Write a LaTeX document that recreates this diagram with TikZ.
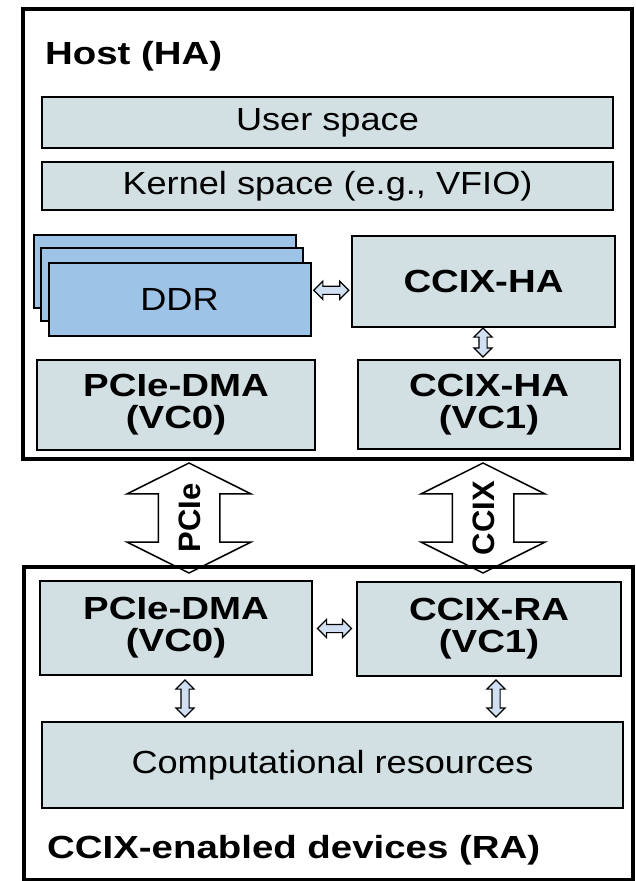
\documentclass[tikz,border=0pt]{standalone}
\usepackage{fontspec}
\setmainfont{Liberation Sans}[FakeStretch=1.13]
\newfontfamily\headfont{Liberation Sans}[FakeStretch=1.2]
\newfontfamily\linkfont{Liberation Sans}
\usetikzlibrary{shapes.arrows,positioning,calc}

\definecolor{boxfill}{RGB}{210,224,228}
\definecolor{ddrfill}{RGB}{157,195,230}
\definecolor{arrowfill}{RGB}{208,224,242}

\tikzset{
  outerbox/.style={draw, line width=4pt, inner sep=0pt},
  block/.style={draw, line width=2pt, fill=boxfill, inner sep=0pt, align=center,
    font=\fontsize{32}{35}\selectfont},
  boldblock/.style={block, font=\headfont\bfseries\fontsize{32}{32}\selectfont},
  ddrbox/.style={block, fill=ddrfill, minimum width=262pt, minimum height=73pt},
  title/.style={anchor=base west, inner sep=0pt,
    font=\headfont\bfseries\fontsize{32}{32}\selectfont},
  bigarrow/.style={shape=double arrow, draw, line width=1.5pt, fill=white, rotate=90,
    minimum height=110pt, double arrow head extend=31pt, double arrow tip angle=127,
    text height=22pt, text depth=0pt, inner xsep=0pt, inner ysep=19pt,
    font=\linkfont\bfseries\fontsize{31}{32}\selectfont},
  smallarrow/.style={shape=double arrow, draw, line width=1.2pt, fill=arrowfill,
    inner xsep=0pt, inner ysep=3.5pt, double arrow head extend=5pt}
}

\begin{document}
\begin{tikzpicture}[x=1pt,y=-1pt]
  \useasboundingbox (0,0) rectangle (636,881);

  % PCIe / CCIX links between host and devices
  \node[bigarrow] (pcie) at (189,518) {\makebox[0pt]{PCIe}};
  \node[bigarrow] (ccix) at (483,518) {\makebox[0pt]{CCIX}};

  % host side
  \node[outerbox, minimum width=609pt, minimum height=450pt] (host) at (327.5,234) {};
  \node[title] (hosttitle) at (45,64) {Host (HA)};
  \node[block, minimum width=571pt, minimum height=51pt] (user) at (327.5,122.5) {User space};
  \node[block, minimum width=571pt, minimum height=48pt] (kernel) at (327.5,186) {Kernel space (e.g., VFIO)};
  \node[ddrbox] (ddr1) at (165,271.5) {};
  \node[ddrbox] (ddr2) at (172,284) {};
  \node[ddrbox] (ddr3) at (179.5,299) {DDR};
  \node[boldblock, minimum width=263pt, minimum height=91pt] (ccixha) at (483.5,281.5) {CCIX-HA};
  \node[boldblock, minimum width=278pt, minimum height=90pt] (hdma) at (176,405) {PCIe-DMA\\(VC0)};
  \node[boldblock, minimum width=262pt, minimum height=89pt] (hvc1) at (489,404.5) {CCIX-HA\\(VC1)};
  \node[smallarrow, minimum height=35pt] (a1) at ($(ddr3.east)!0.5!(ccixha.west)$) {};
  \node[smallarrow, minimum height=29pt, rotate=90] (a2) at (483,342.5) {};

  % device side
  \node[outerbox, minimum width=609pt, minimum height=313pt] (dev) at (328.5,723.5) {};
  \node[boldblock, minimum width=272pt, minimum height=94pt] (ddma) at (176,628) {PCIe-DMA\\(VC0)};
  \node[boldblock, minimum width=264pt, minimum height=94pt] (ccixra) at (489,629) {CCIX-RA\\(VC1)};
  \node[block, minimum width=581pt, minimum height=86pt] (comp) at (332.5,765) {Computational resources};
  \node[title] (devtitle) at (47,858) {CCIX-enabled devices (RA)};
  \node[smallarrow, minimum height=34pt] (a3) at ($(ddma.east)!0.5!(ccixra.west)$) {};
  \node[smallarrow, minimum height=37pt, rotate=90] (a4) at (185,698.5) {};
  \node[smallarrow, minimum height=37pt, rotate=90] (a5) at (496,698.5) {};
\end{tikzpicture}
\end{document}
